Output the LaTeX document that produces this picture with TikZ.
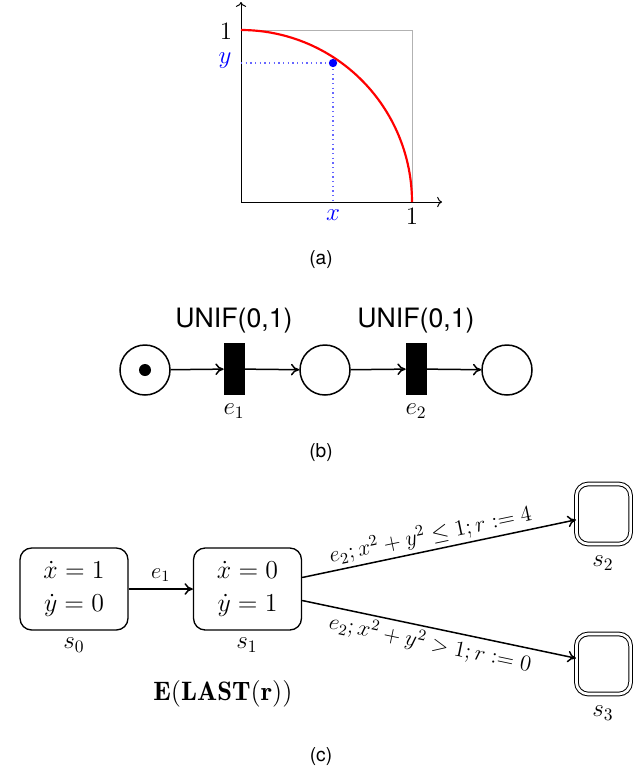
\RequirePackage{fix-cm}
\documentclass[tikz,border=0pt]{standalone}
\usepackage{fontspec}
\newfontfamily\capfont{TeX Gyre Heros}
\usetikzlibrary{arrows.meta}
\begin{document}
\begin{tikzpicture}[x=0.6pt,y=-0.6pt,
  mlab/.style={font=\fontsize{15}{18}\selectfont, inner sep=0pt},
  elab/.style={font=\fontsize{13.5}{16}\selectfont, inner sep=2pt},
  captxt/.style={font=\capfont\fontsize{11.5}{13}\selectfont, inner sep=0pt},
  place/.style={draw, circle, line width=0.9pt, minimum size=30pt, inner sep=0pt},
  trans/.style={draw, fill=black, rectangle, minimum width=12pt, minimum height=30.6pt, inner sep=0pt},
  parc/.style={-{To[length=5pt,width=7pt]}, line width=0.9pt},
  state/.style={draw, rounded corners=7pt, line width=0.8pt, minimum width=64.8pt, minimum height=49.2pt, align=center, inner sep=0pt, font=\fontsize{15.5}{18.6}\selectfont},
  final/.style={draw, double, double distance=1.6pt, rounded corners=7pt, line width=0.6pt, minimum width=32.5pt, minimum height=36pt, inner sep=0pt},
  sarc/.style={-{To[length=5pt,width=7pt]}, line width=0.9pt}
]
\useasboundingbox (0,0) rectangle (643,771);
% ---------------- (a)
\coordinate (O) at (241,202);
\coordinate (XE) at (442,202);
\coordinate (YE) at (241,2);
\draw[gray!60, line width=0.6pt] (241,30) -- (412,30) -- (412,202);
\draw[->, line width=0.6pt] (O) -- (XE);
\draw[->, line width=0.6pt] (O) -- (YE);
\draw[red, line width=1.3pt] plot[domain=0:90, samples=80] ({241+171*cos(\x)},{202-172*sin(\x)});
\coordinate (P) at (333,63);
\draw[blue!60, dotted, line width=0.8pt] (241,63) -- (P) -- (333,202);
\fill[blue] (P) circle (2.5pt);
\node[mlab] (one_y) at (226,31) {$1$};
\node[mlab, text=blue] (ly) at (225,61) {$y$};
\node[mlab, text=blue] (lx) at (333,215) {$x$};
\node[mlab] (one_x) at (412,216) {$1$};
\node[captxt] (capa) at (321,260) {(a)};
% ---------------- (b)
\node[place] (p1) at (145,370) {};
\fill (p1.center) circle (3.6pt);
\node[trans] (t1) at (234,369) {};
\node[place] (p2) at (325,370) {};
\node[trans] (t2) at (416,369) {};
\node[place] (p3) at (507,370) {};
\draw[parc] (p1) -- (t1);
\draw[parc] (t1) -- (p2);
\draw[parc] (p2) -- (t2);
\draw[parc] (t2) -- (p3);
\node[font=\capfont\fontsize{16}{19}\selectfont] (u1) at (234,321) {UNIF(0,1)};
\node[font=\capfont\fontsize{16}{19}\selectfont] (u2) at (416,321) {UNIF(0,1)};
\node[mlab] (le1) at (234,411) {$e_1$};
\node[mlab] (le2) at (416,411) {$e_2$};
\node[captxt] (capb) at (321,453) {(b)};
% ---------------- (c)
\node[state] (s0) at (74,589) {$\dot x = 1$\\[1pt]$\dot y = 0$};
\node[state] (s1) at (247.5,589) {$\dot x = 0$\\[1pt]$\dot y = 1$};
\node[final] (s2) at (603.5,514) {};
\node[final] (s3) at (603.5,664) {};
\node[mlab] (ls0) at (74,645) {$s_0$};
\node[mlab] (ls1) at (247,645) {$s_1$};
\node[mlab] (ls2) at (603,563) {$s_2$};
\node[mlab] (ls3) at (603,713) {$s_3$};
\draw[sarc] (s0) -- node[elab, above=2pt] {$e_1$} (s1);
\draw[sarc] (s1) -- node[elab, sloped, above, pos=0.48] {$e_2;x^2+y^2\leq 1;r:=4$} (s2);
\draw[sarc] (s1) -- node[elab, sloped, below, pos=0.48] {$e_2;x^2+y^2>1;r:=0$} (s3);
\node[font=\fontsize{16}{19}\selectfont, inner sep=0pt] (lexp) at (223,694) {$\mathbf{E}(\mathbf{LAST}(\mathbf{r}))$};
\node[captxt] (capc) at (321,757) {(c)};
\end{tikzpicture}
\end{document}
